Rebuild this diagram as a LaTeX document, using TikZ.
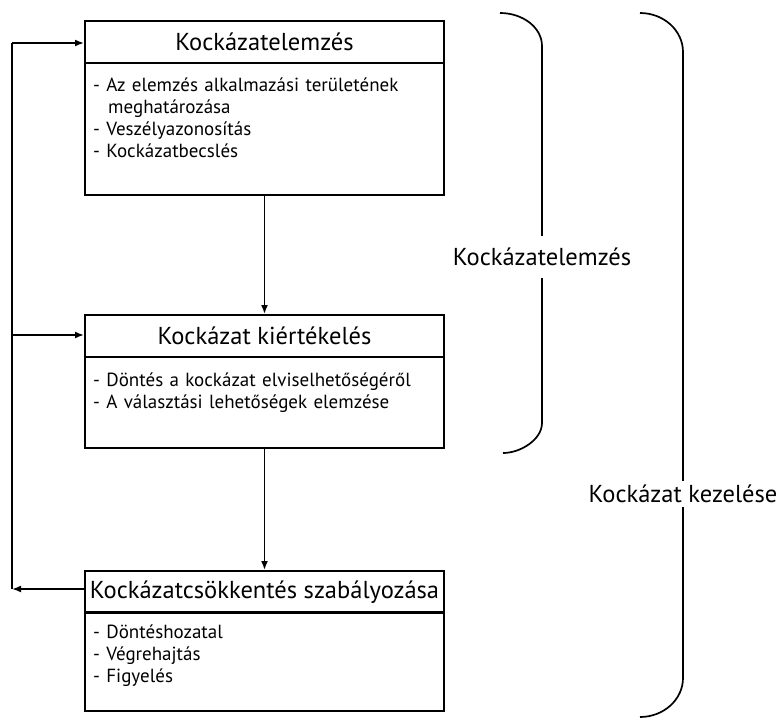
\documentclass[tikz,border=0pt]{standalone}
\usepackage{fontspec}
\setmainfont{PT Sans}
\usetikzlibrary{arrows.meta}
\begin{document}
\begin{tikzpicture}[x=1pt,y=-1pt,
  box/.style={draw, line width=2pt, anchor=north west, minimum width=359pt, inner sep=0pt},
  hdr/.style={box, minimum height=42pt, font=\fontsize{24.5}{27}\selectfont},
  bodybox/.style={box},
  bodytext/.style={anchor=base west, align=left, text width=345pt, inner sep=0pt, font=\fontsize{19}{22}\selectfont},
  lbl/.style={inner sep=0pt, font=\fontsize{24.5}{27}\selectfont},
  conn/.style={line width=1.7pt},
  arr/.style={conn, -{Latex[length=9pt,width=7pt]}},
  brace/.style={line width=1.7pt}
]
\useasboundingbox (0,0) rectangle (777,720);

% boxes
\node[hdr] (h1) at (84,20) {Kockázatelemzés};
\node[bodybox, minimum height=132pt] (b1) at (84,62) {};
\node[bodytext] (t1) at (93,91.5) {- Az elemzés alkalmazási területének\\\hspace*{15pt}meghatározása\\- Veszélyazonosítás\\- Kockázatbecslés};

\node[hdr] (h2) at (84,314) {Kockázat kiértékelés};
\node[bodybox, minimum height=91pt] (b2) at (84,356) {};
\node[bodytext] (t2) at (93,386.5) {- Döntés a kockázat elviselhetőségéről\\- A választási lehetőségek elemzése};

\node[hdr] (h3) at (84,570) {Kockázatcsökkentés szabályozása};
\node[bodybox, minimum height=99pt] (b3) at (84,611) {};
\node[bodytext] (t3) at (93,638.5) {- Döntéshozatal\\- Végrehajtás\\- Figyelés};

% main flow
\draw[arr] (b1.south) -- (h2.north);
\draw[arr] (b2.south) -- (h3.north);

% feedback loop
\coordinate (c1) at (12,43);
\coordinate (c2) at (12,335);
\coordinate (c3) at (12,589);
\draw[arr] (h3.west |- c3) -- (c3);
\draw[conn] (c3) -- (c1);
\draw[arr] (c1) -- (c1 -| h1.west);
\draw[arr] (c2) -- (c2 -| h2.west);

% brace 1
\node[lbl, minimum height=42pt] (l1) at (542,257) {Kockázatelemzés};
\coordinate (p1a) at (500,13);
\coordinate (p1b) at (542,46);
\coordinate (p1c) at (542,423);
\coordinate (p1d) at (503,453);
\draw[brace] (p1a) .. controls (523.2,13) and (542,27.8) .. (p1b) -- (l1.north);
\draw[brace] (l1.south) -- (p1c) .. controls (542,439.6) and (520.5,453) .. (p1d);

% brace 2
\node[lbl, minimum height=26pt] (l2) at (683,494) {Kockázat kezelése};
\coordinate (p2a) at (640,13);
\coordinate (p2b) at (683,52);
\coordinate (p2c) at (683,678);
\coordinate (p2d) at (640,717);
\draw[brace] (p2a) .. controls (663.7,13) and (683,30.5) .. (p2b) -- (l2.north);
\draw[brace] (l2.south) -- (p2c) .. controls (683,699.5) and (663.7,717) .. (p2d);
\end{tikzpicture}
\end{document}
